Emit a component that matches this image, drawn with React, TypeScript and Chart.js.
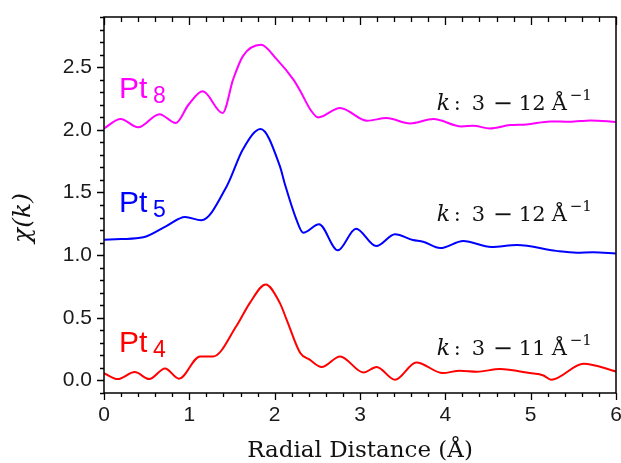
import React, { useEffect, useRef } from 'react';
import { Chart, registerables } from 'chart.js';

Chart.register(...registerables);

const xTickValues = [0, 1, 2, 3, 4, 5, 6];
const yTickValues = [0, 0.5, 1, 1.5, 2, 2.5];

const pt8X = [0, 0.195, 0.4, 0.65, 0.84, 0.99, 1.157, 1.39, 1.515, 1.63, 1.84, 2.02, 2.22, 2.3, 2.42, 2.51, 2.766, 3.085, 3.31, 3.587, 3.86, 4.19, 4.33, 4.52, 4.76, 4.95, 5.23, 5.46, 5.7, 6.0];
const pt8Y = [2.011, 2.086, 2.02, 2.125, 2.054, 2.2, 2.307, 2.134, 2.406, 2.59, 2.678, 2.566, 2.4, 2.31, 2.16, 2.099, 2.174, 2.072, 2.094, 2.051, 2.086, 2.027, 2.032, 2.011, 2.038, 2.043, 2.067, 2.064, 2.075, 2.062];

const pt5X = [0, 0.2, 0.46, 0.73, 0.95, 1.14, 1.44, 1.63, 1.835, 2.06, 2.12, 2.24, 2.335, 2.52, 2.74, 2.953, 3.19, 3.41, 3.62, 3.74, 3.94, 4.21, 4.54, 4.84, 5.3, 5.54, 5.73, 6.0];
const pt5Y = [1.122, 1.128, 1.142, 1.232, 1.304, 1.278, 1.552, 1.846, 2.006, 1.712, 1.566, 1.312, 1.179, 1.246, 1.038, 1.211, 1.072, 1.166, 1.12, 1.107, 1.056, 1.112, 1.065, 1.08, 1.034, 1.02, 1.023, 1.014];

const pt4X = [0, 0.16, 0.36, 0.53, 0.715, 0.88, 1.125, 1.28, 1.55, 1.71, 1.895, 2.06, 2.14, 2.3, 2.41, 2.55, 2.766, 3.04, 3.195, 3.41, 3.66, 3.97, 4.17, 4.37, 4.64, 4.99, 5.15, 5.24, 5.62, 6.0];
const pt4Y = [0.059, 0.011, 0.067, 0.011, 0.096, 0.014, 0.192, 0.192, 0.432, 0.619, 0.766, 0.619, 0.486, 0.219, 0.166, 0.107, 0.192, 0.064, 0.107, 0.006, 0.144, 0.059, 0.078, 0.07, 0.091, 0.059, 0.04, 0.006, 0.134, 0.072];

const seriesNames = ['Pt8', 'Pt5', 'Pt4'];
const seriesColors = ['#ff00ff', '#0000ff', '#ff0000'];
const seriesSubs = ['8', '5', '4'];
const seriesLabelX = [0.176, 0.176, 0.176];
const seriesLabelY = [2.25, 1.345, 0.225];

const kRangeHigh = ['12', '12', '11'];
const kLabelX = [3.9, 3.9, 3.9];
const kLabelY = [2.158, 1.27, 0.205];

const xTitle = 'Radial Distance (Å)';
const yTitle = 'χ(k)';

const toPoints = (xs: number[], ys: number[]) => xs.map((x, i) => ({ x, y: ys[i] }));

const decorPlugin = {
  id: 'decor',
  afterDraw(chart: any) {
    const ctx = chart.ctx as CanvasRenderingContext2D;
    const xs = chart.scales.x;
    const ys = chart.scales.y;
    const { left, right, top, bottom } = chart.chartArea;
    ctx.save();
    ctx.strokeStyle = '#000';
    ctx.lineWidth = 1.5;
    ctx.strokeRect(left, top, right - left, bottom - top);
    ctx.lineWidth = 1.3;
    ctx.beginPath();
    for (let i = 0; i <= 30; i++) {
      const v = i * 0.2;
      const px = Math.round(xs.getPixelForValue(v)) + 0.5;
      const major = i % 5 === 0;
      ctx.moveTo(px, bottom);
      ctx.lineTo(px, bottom + (major ? 7 : 4));
      ctx.moveTo(px, top);
      ctx.lineTo(px, top + (major ? 8 : 5));
    }
    for (let i = -1; i <= 29; i++) {
      const v = i * 0.1;
      const py = Math.round(ys.getPixelForValue(v)) + 0.5;
      const major = i % 5 === 0;
      ctx.moveTo(left, py);
      ctx.lineTo(left - (major ? 7 : 4), py);
    }
    ctx.stroke();

    ctx.fillStyle = '#111';
    ctx.font = '23px "DejaVu Serif"';
    ctx.textAlign = 'center';
    ctx.textBaseline = 'alphabetic';
    ctx.fillText(xTitle, (left + right) / 2, 457);

    ctx.save();
    ctx.translate(30, 218);
    ctx.rotate(-Math.PI / 2);
    ctx.font = 'italic 25px "DejaVu Serif"';
    ctx.textAlign = 'center';
    ctx.fillText(yTitle, 0, 0);
    ctx.restore();

    for (let i = 0; i < seriesNames.length; i++) {
      const px = xs.getPixelForValue(seriesLabelX[i]);
      const py = ys.getPixelForValue(seriesLabelY[i]);
      ctx.fillStyle = seriesColors[i];
      ctx.textAlign = 'left';
      ctx.font = '30px "Liberation Sans"';
      ctx.fillText('Pt', px, py);
      ctx.font = '23px "Liberation Sans"';
      ctx.fillText(seriesSubs[i], px + 34, py + 5);
    }

    ctx.fillStyle = '#111';
    for (let i = 0; i < kRangeHigh.length; i++) {
      const x0 = xs.getPixelForValue(kLabelX[i]);
      const by = ys.getPixelForValue(kLabelY[i]);
      ctx.textAlign = 'left';
      ctx.font = 'italic 22px "DejaVu Serif"';
      ctx.fillText('k', x0, by);
      ctx.font = '21px "DejaVu Serif"';
      ctx.fillText(':', x0 + 17, by);
      ctx.fillText('3', x0 + 35, by);
      ctx.font = '24px "DejaVu Serif"';
      ctx.fillText('−', x0 + 56, by + 1);
      ctx.font = '21px "DejaVu Serif"';
      ctx.fillText(kRangeHigh[i], x0 + 82, by);
      ctx.fillText('Å', x0 + 115, by);
      ctx.font = '15px "DejaVu Serif"';
      ctx.fillText('−1', x0 + 133, by - 10);
    }
    ctx.restore();
  },
};

export default function App() {
  const canvasRef = useRef<HTMLCanvasElement | null>(null);

  useEffect(() => {
    document.body.style.margin = '0';
    const canvas = canvasRef.current;
    if (!canvas) return;
    const chart = new Chart(canvas, {
      type: 'line',
      data: {
        datasets: [
          { label: seriesNames[0], data: toPoints(pt8X, pt8Y), borderColor: seriesColors[0] },
          { label: seriesNames[1], data: toPoints(pt5X, pt5Y), borderColor: seriesColors[1] },
          { label: seriesNames[2], data: toPoints(pt4X, pt4Y), borderColor: seriesColors[2] },
        ].map((d) => ({
          ...d,
          borderWidth: 2,
          pointRadius: 0,
          fill: false,
          cubicInterpolationMode: 'monotone' as const,
        })),
      },
      options: {
        responsive: false,
        animation: false,
        devicePixelRatio: 1,
        layout: { padding: { left: 0, right: 5, top: 17, bottom: 0 } },
        plugins: { legend: { display: false }, tooltip: { enabled: false } },
        scales: {
          x: {
            type: 'linear',
            min: 0,
            max: 6,
            grid: { display: false, drawTicks: false },
            border: { display: false },
            afterBuildTicks: (scale: any) => {
              scale.ticks = xTickValues.map((v) => ({ value: v }));
            },
            afterFit: (scale: any) => {
              scale.height = 70;
              scale.paddingLeft = 0;
              scale.paddingRight = 0;
            },
            ticks: {
              padding: 10,
              color: '#1a1a1a',
              font: { family: '"Liberation Sans"', size: 21 },
              maxRotation: 0,
              callback: (v: any) => String(v),
            },
          },
          y: {
            type: 'linear',
            min: -0.1,
            max: 2.9,
            grid: { display: false, drawTicks: false },
            border: { display: false },
            afterBuildTicks: (scale: any) => {
              scale.ticks = yTickValues.map((v) => ({ value: v }));
            },
            afterFit: (scale: any) => {
              scale.width = 104;
              scale.paddingTop = 0;
              scale.paddingBottom = 0;
            },
            ticks: {
              padding: 12,
              color: '#1a1a1a',
              font: { family: '"Liberation Sans"', size: 21 },
              callback: (v: any) => Number(v).toFixed(1),
            },
          },
        },
      },
      plugins: [decorPlugin],
    });
    return () => chart.destroy();
  }, []);

  return <canvas ref={canvasRef} width={621} height={463} style={{ display: 'block' }} />;
}
